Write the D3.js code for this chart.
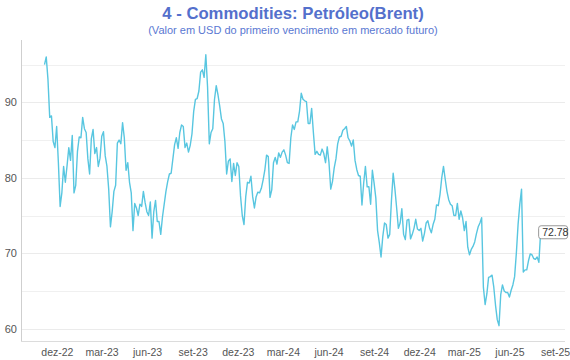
<!DOCTYPE html>
<html><head><meta charset="utf-8">
<script src="https://cdn.jsdelivr.net/npm/d3@7"></script>
<style>body{margin:0;background:#fff} svg{display:block;font-family:"Liberation Sans",Arial,sans-serif}</style>
</head><body><svg id="c" width="570" height="360"></svg>
<script>
const title = "4 - Commodities: Petróleo(Brent)";
const subtitle = "(Valor em USD do primeiro vencimento em mercado futuro)";
const startDate = "2022-11-06"; // first observation, then one every 3.5 days (twice a week)
const prices = [
95.0,96.0,93.0,88.0,88.2,84.8,84.0,86.8,82.0,76.2,
78.0,81.5,79.4,81.6,84.0,82.3,85.6,78.0,79.0,83.5,
85.4,85.3,88.0,86.5,86.0,82.5,80.5,85.2,86.4,83.2,
84.0,81.5,82.6,85.5,86.1,82.9,81.5,78.5,73.5,75.5,
78.2,79.0,84.6,85.0,84.5,87.3,85.3,81.0,82.0,79.4,
78.0,73.0,76.6,76.0,75.0,76.5,76.2,78.2,76.7,75.5,
75.0,76.8,72.0,75.5,77.0,74.2,74.2,72.5,74.8,76.5,
78.2,79.5,80.5,80.6,82.5,84.4,85.3,83.9,86.0,87.0,
86.8,84.0,84.6,83.4,84.3,85.8,88.8,90.4,90.5,91.5,
94.0,94.3,93.3,96.3,92.0,84.5,86.0,86.5,90.4,92.2,
91.0,89.5,87.8,87.2,84.8,80.5,82.2,82.5,79.5,81.9,
80.3,82.0,81.5,77.6,75.0,73.8,77.5,79.4,79.3,80.2,
77.5,76.0,77.5,78.1,78.0,78.6,79.7,81.0,83.0,82.8,
77.4,78.4,82.0,82.7,81.8,83.3,82.7,83.4,83.7,83.0,
82.0,81.9,85.3,87.0,86.4,87.4,87.4,88.8,91.2,90.4,
90.2,90.1,87.2,87.2,89.2,86.0,83.1,83.5,83.1,83.0,
83.8,83.2,82.0,84.1,82.0,78.5,79.5,81.3,82.5,84.5,
85.4,85.5,86.3,86.5,86.8,85.3,84.9,84.2,85.0,82.3,
81.1,80.3,80.2,76.4,79.3,81.5,78.8,78.8,76.5,81.0,
79.3,77.3,73.0,71.4,69.5,72.2,74.0,73.8,72.0,72.5,
77.0,80.6,78.5,76.0,73.3,74.0,75.9,72.5,71.8,74.4,
74.5,71.9,72.5,73.3,74.5,73.2,73.0,73.3,71.6,72.6,
74.0,74.3,73.3,72.7,73.8,74.5,76.4,76.3,77.8,80.0,
81.5,79.8,78.2,77.1,76.5,76.3,75.0,75.0,76.6,74.5,
75.6,74.7,73.0,74.2,70.8,69.8,70.5,70.9,71.5,72.6,
73.5,74.0,74.7,65.5,63.2,64.6,66.8,66.9,67.1,65.5,
63.1,61.2,60.4,64.5,65.8,65.0,64.8,64.8,64.2,65.1,
65.8,66.9,70.0,73.8,76.5,78.5,67.5,67.8,67.8,69.0,
69.9,69.8,69.3,69.2,69.5,68.8,72.78
];
const lastLabel = "72.78";
const xTickDates = ["2022-12-01","2023-03-01","2023-06-01","2023-09-01","2023-12-01","2024-03-01","2024-06-01","2024-09-01","2024-12-01","2025-03-01","2025-06-01","2025-09-01"];
const xTickLabels = ["dez-22","mar-23","jun-23","set-23","dez-23","mar-24","jun-24","set-24","dez-24","mar-25","jun-25","set-25"];
const yMajorTicks = [60,70,80,90];
const yMinorTicks = [65,75,85,95];

const parse = d3.utcParse("%Y-%m-%d");
const t0 = parse(startDate);
const data = prices.map((v,i)=>({date:d3.utcHour.offset(t0,84*i), v}));

const svg = d3.select("#c");
const pLeft = 21, pRight = 565, pTop = 40, pBottom = 341.5;

const x = d3.scaleUtc().domain([parse("2022-12-01"), parse("2025-09-01")]).range([56.9, 555]);
const y = d3.scaleLinear().domain([60,90]).range([328.7,102.3]);

// titles
svg.append("text").attr("x",293).attr("y",18.5).attr("text-anchor","middle")
  .attr("font-size",16.7).attr("font-weight","bold").attr("fill","#5470cc").text(title);
svg.append("text").attr("x",293).attr("y",34).attr("text-anchor","middle")
  .attr("font-size",11).attr("fill","#5a78d2").text(subtitle);

// grid
svg.append("g").selectAll("line").data(yMinorTicks).join("line")
  .attr("x1",pLeft).attr("x2",pRight).attr("y1",d=>Math.round(y(d))+0.5).attr("y2",d=>Math.round(y(d))+0.5)
  .attr("stroke","#f0f0f0").attr("stroke-width",1);
svg.append("g").selectAll("line").data(yMajorTicks).join("line")
  .attr("x1",pLeft).attr("x2",pRight).attr("y1",d=>Math.round(y(d))+0.5).attr("y2",d=>Math.round(y(d))+0.5)
  .attr("stroke","#ebebeb").attr("stroke-width",1);

// axes lines
svg.append("line").attr("x1",pLeft+0.5).attr("x2",pLeft+0.5).attr("y1",pTop).attr("y2",pBottom)
  .attr("stroke","#cfcfcf");
svg.append("line").attr("x1",pLeft).attr("x2",pRight).attr("y1",pBottom).attr("y2",pBottom)
  .attr("stroke","#dcdcdc");

// y axis labels
const yAxis = svg.append("g").attr("transform",`translate(${pLeft},0)`)
  .call(d3.axisLeft(y).tickValues(yMajorTicks).tickSize(0).tickPadding(4).tickFormat(d3.format("d")));
yAxis.select(".domain").remove();
yAxis.selectAll("text").attr("font-size",11).attr("fill","#555").attr("font-family","Liberation Sans, Arial, sans-serif");

// x axis labels
const xAxis = svg.append("g").attr("transform",`translate(0,${pBottom})`)
  .call(d3.axisBottom(x).tickValues(xTickDates.map(parse)).tickSize(0).tickPadding(7)
    .tickFormat((d,i)=>xTickLabels[i]));
xAxis.select(".domain").remove();
xAxis.selectAll("text").attr("font-size",10.5).attr("fill","#555").attr("font-family","Liberation Sans, Arial, sans-serif");

// line
svg.append("path").datum(data)
  .attr("fill","none").attr("stroke","#58c6e0").attr("stroke-width",1.4)
  .attr("stroke-linejoin","round")
  .attr("d", d3.line().x(d=>x(d.date)).y(d=>y(d.v)));

// end label
const last = data[data.length-1];
const g = svg.append("g").attr("transform",`translate(${x(last.date)-2},${y(last.v)})`);
g.append("rect").attr("x",0).attr("y",-6.5).attr("width",29).attr("height",13).attr("rx",2.5)
  .attr("fill","#fff").attr("stroke","#999").attr("stroke-width",1);
g.append("text").attr("x",3.5).attr("y",4).attr("font-size",10.5).attr("fill","#333").text(lastLabel);
</script></body></html>
